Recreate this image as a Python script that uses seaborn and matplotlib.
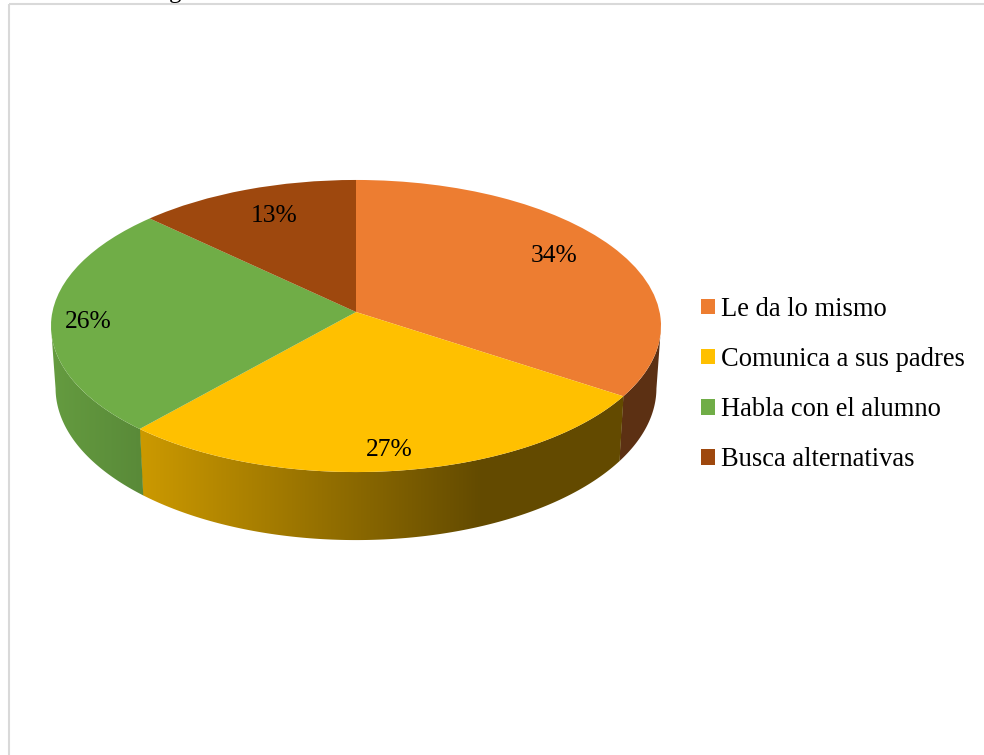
import numpy as np
import matplotlib
matplotlib.use("Agg")
import matplotlib.pyplot as plt
from matplotlib.patches import Rectangle, Polygon
from matplotlib.transforms import Transform
from matplotlib.colors import to_rgb
import seaborn as sns

categories = ["Le da lo mismo", "Comunica a sus padres", "Habla con el alumno", "Busca alternativas"]
values = [34.3, 27.2, 25.6, 12.9]
colors = ["#ED7D31", "#FFC000", "#70AD47", "#9E480E"]

# Layout (figure pixels)
W, H = 984, 755
CX, CY, RX, RY, K = 356.0, 312.0, 303.6, 144.7, 0.0959
DEPTH, BOTTOM_X = 61.5, 0.985
LABEL_POS = [(554.5, 255.5), (389.5, 449.5), (88.5, 321.5), (274.5, 216.5)]
SHADE_X = [50, 139, 350, 480, 661]
SHADE_F = [0.90, 0.80, 0.55, 0.39, 0.39]

sns.set_theme(style="white")
plt.rcParams["font.family"] = ["Liberation Serif", "DejaVu Serif"]


class Tilt(Transform):
    """Perspective view of the unit-circle pie onto figure pixels."""
    input_dims = output_dims = 2
    is_separable = False
    has_inverse = False

    def transform_non_affine(self, values):
        p = np.asarray(values, dtype=float)
        d = 1 + K * p[:, 1]
        return np.column_stack([CX + RX * p[:, 0] / d, CY - RY * p[:, 1] / d])


fig = plt.figure(figsize=(W / 100, H / 100), dpi=100)
ax = fig.add_axes([0, 0, 1, 1])
palette = sns.color_palette(colors)
wedges, _, autotexts = ax.pie(
    values, colors=palette, startangle=90, counterclock=False,
    autopct="%.0f%%", textprops={"fontsize": 18.4, "color": "black"},
    wedgeprops={"linewidth": 0},
)
ax.set_aspect("auto")
ax.set_axis_off()

tilt = Tilt()
for w in wedges:
    w.set_transform(tilt + ax.transData)
    w.set_zorder(5)

# Frame of the original chart area
ax.add_patch(Rectangle((8.5, 3.5), W + 50, H + 50, fc="none", ec="#D9D9D9", lw=1.5, zorder=1))

# Side wall: a horizontal shading ramp clipped to the front edge of every slice
for w, base in zip(wedges, palette):
    th = np.radians(np.arange(w.theta1, w.theta2 + 0.25, 0.25))
    th = th[np.sin(th) < -K]  # the part of the rim that faces the viewer
    if len(th) < 2:
        continue
    u, v = np.cos(th), np.sin(th)
    top = tilt.transform_non_affine(np.column_stack([u, v]))
    bot = np.column_stack([CX + (top[:, 0] - CX) * BOTTOM_X, top[:, 1] + DEPTH / (1 + K * v)])
    outline = np.vstack([top, bot[::-1]])
    x0, x1 = outline[:, 0].min() - 1, outline[:, 0].max() + 1
    y0, y1 = outline[:, 1].min() - 1, outline[:, 1].max() + 1
    xs = np.linspace(x0, x1, max(int(x1 - x0), 2))
    ramp = np.array(to_rgb(base))[None, None, :] * np.interp(xs, SHADE_X, SHADE_F)[None, :, None]
    im = ax.imshow(ramp, extent=(x0, x1, y1, y0), aspect="auto", interpolation="bilinear", zorder=3)
    im.set_clip_path(Polygon(outline, closed=True, transform=ax.transData))

ax.set_xlim(0, W)
ax.set_ylim(H, 0)

for t, (x, y) in zip(autotexts, LABEL_POS):
    t.set_position((x, y))
    t.set_ha("center")
    t.set_va("center")
    t.set_zorder(6)

ax.text(175, -2, "g", fontsize=18, ha="center", va="baseline", color="black", zorder=6, clip_on=False)

ax.legend(
    wedges, categories, loc="upper left", bbox_to_anchor=(693 / W, 1 - 289 / H),
    frameon=False, fontsize=19.1, handlelength=0.53, handleheight=0.53,
    handletextpad=0.24, labelspacing=0.945, labelcolor="black",
    borderaxespad=0, borderpad=0.3,
)

fig.savefig("out.png", dpi=100, facecolor="white")
